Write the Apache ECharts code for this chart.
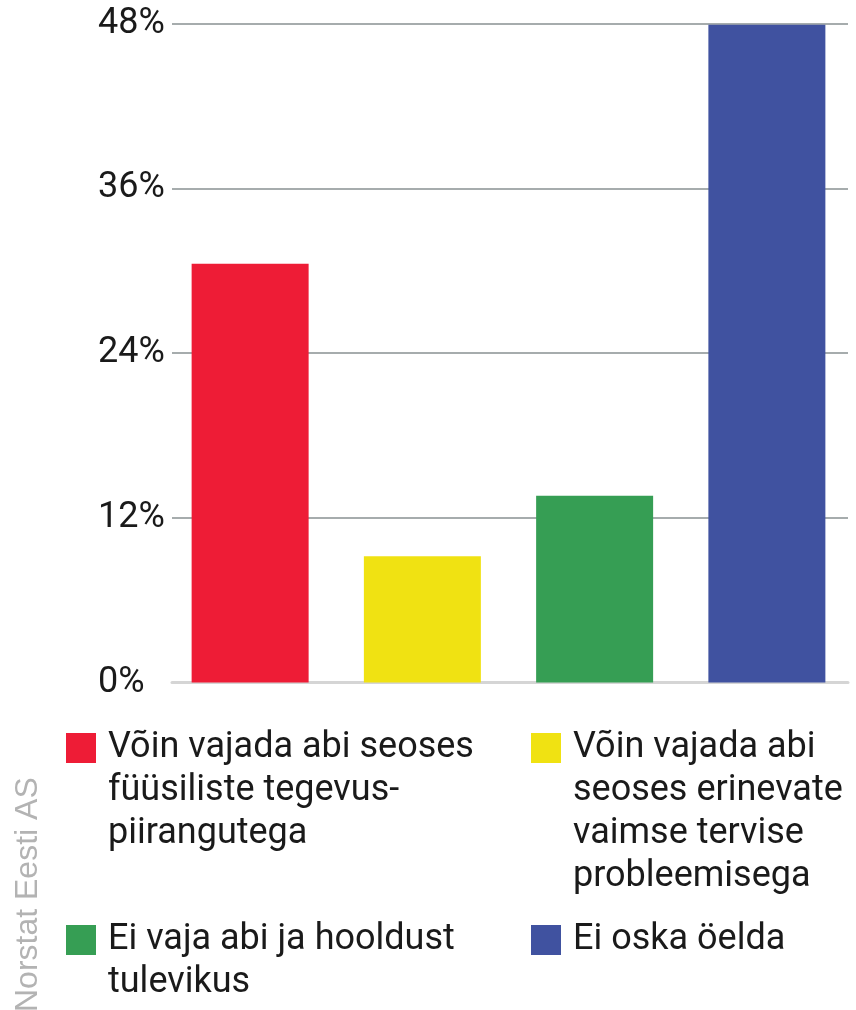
<!doctype html>
<html lang="et">
<head>
    <meta charset="utf-8">
    <title>Abi vajadus</title>
    <script src="https://cdn.jsdelivr.net/npm/echarts@6/dist/echarts.min.js"></script>
    <style>
        html, body { margin: 0; padding: 0; background: #fff; }
        #chart { width: 856px; height: 1010px; }
    </style>
</head>
<body>
    <div id="chart"></div>
    <script>
        // data (percent)
        let names = [
            'Võin vajada abi seoses\nfüüsiliste tegevus-\npiirangutega',
            'Võin vajada abi\nseoses erinevate\nvaimse tervise\nprobleemisega',
            'Ei vaja abi ja hooldust\ntulevikus',
            'Ei oska öelda'
        ];
        let values = [30.5, 9.2, 13.6, 47.9];
        let colors = ['#ee1c36', '#f0e212', '#369e54', '#4052a0'];
        let yTicks = [0, 12, 24, 36, 48];
        let source = 'Norstat Eesti AS';

        let myChart = echarts.init(document.getElementById('chart'));

        let series = [];
        for (let i = 0; i < names.length; ++i) {
            let data = names.map(function (n, j) { return j === i ? values[i] : '-'; });
            series.push({
                name: names[i],
                type: 'bar',
                stack: 'all',
                xAxisIndex: 1,
                yAxisIndex: 1,
                barWidth: 117,
                itemStyle: { color: colors[i] },
                data: data
            });
        }

        // one legend per item, two columns; the icon should sit next to the first line,
        // so blank lines are put in front to keep that line in the middle of the block
        let legendIcon = [[66, 733], [531, 733], [66, 925], [531, 925]];
        let legends = names.map(function (n, i) {
            let lines = n.split('\n').length;
            return {
                data: [n],
                left: legendIcon[i][0],
                top: legendIcon[i][1] + 15 - (2 * lines - 1) * 21.5,
                padding: 0,
                icon: 'rect',
                itemWidth: 30,
                itemHeight: 30,
                selectedMode: false,
                formatter: function (name) {
                    return '\n'.repeat(lines - 1) + name;
                },
                textStyle: {
                    fontFamily: 'Roboto',
                    fontSize: 36,
                    lineHeight: 43,
                    color: '#1a1a1a',
                    padding: [0, 0, 0, 7]
                }
            };
        });

        let option = {
            animation: false,
            grid: [
                { left: 172, right: 8, top: 23.5, bottom: 327.5 },
                { left: 164, right: 3, top: 23.5, bottom: 327.5 }
            ],
            legend: legends,
            xAxis: [{
                type: 'category',
                gridIndex: 0,
                data: names,
                axisLabel: { show: false },
                axisTick: { show: false },
                axisLine: { lineStyle: { color: '#d5d5d5', width: 3 } }
            }, {
                type: 'category',
                gridIndex: 1,
                data: names,
                show: false
            }],
            yAxis: [{
                type: 'value',
                gridIndex: 0,
                min: yTicks[0],
                max: yTicks[yTicks.length - 1],
                interval: 12,
                axisLabel: {
                    formatter: '{value}%',
                    align: 'left',
                    margin: 74,
                    fontFamily: 'Roboto',
                    fontSize: 36,
                    color: '#1a1a1a'
                },
                splitLine: { lineStyle: { color: '#a6acad', width: 2 } }
            }, {
                type: 'value',
                gridIndex: 1,
                min: yTicks[0],
                max: yTicks[yTicks.length - 1],
                show: false,
                splitLine: { show: false }
            }],
            graphic: [{
                type: 'text',
                x: 28.5,
                y: 1012,
                rotation: Math.PI / 2,
                style: {
                    text: source,
                    fontFamily: 'Liberation Sans',
                    fontSize: 32,
                    fill: '#b3b3b3',
                    align: 'left',
                    verticalAlign: 'middle'
                }
            }],
            series: series
        };
        myChart.setOption(option);
    </script>
</body>
</html>
